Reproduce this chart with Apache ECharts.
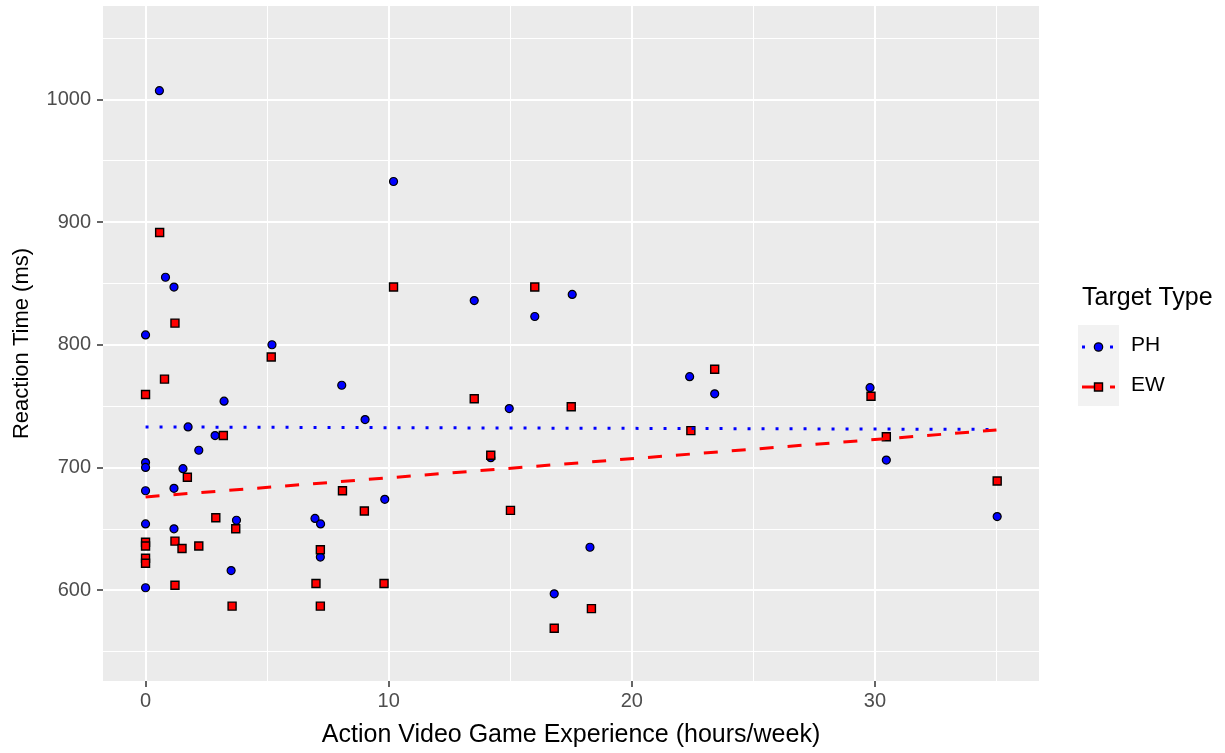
<!DOCTYPE html>
<html>
<head>
<meta charset="utf-8">
<script src="https://cdn.jsdelivr.net/npm/echarts@6/dist/echarts.min.js"></script>
<style>
html,body{margin:0;padding:0;background:#fff;}
#chart{width:1225px;height:753px;}
</style>
</head>
<body>
<div id="chart"></div>
<script>
// ---- data ----
const phPoints = [
  [0.57,1007],[0.82,855],[1.17,847],[0,808],[5.2,800],[3.23,754],[1.75,733],[2.86,726],
  [2.19,714],[0,704],[0,700],[1.54,699],[0,681],[1.17,683],[3.74,657],[0,654],[1.17,650],
  [3.52,616],[0,602],[10.2,933],[13.52,836],[8.07,767],[14.96,748],[9.03,739],[14.2,708],
  [9.84,674],[6.97,658.5],[7.2,654],[7.19,627],[17.55,841],[16.01,823],[22.38,774],
  [23.41,760],[18.28,635],[16.81,597],[29.8,765],[30.47,706],[35.03,660]
];
const ewPoints = [
  [0.58,891.5],[1.21,817.6],[5.17,790],[0.78,772],[0,759.5],[3.2,726],[1.72,692],[2.89,659],
  [3.71,650],[1.21,640],[1.5,634],[2.19,636],[0,639],[0,636],[0,626],[0,622],[1.21,604],
  [3.56,587],[10.2,847],[13.52,756],[14.2,710],[8.1,681],[9.0,664.5],[15.01,665],[7.19,633],
  [7.01,605.5],[9.81,605.5],[7.19,587],[16.01,847],[23.41,780],[17.51,749.5],[22.43,730],
  [18.34,585],[16.81,569],[29.84,758],[30.47,725],[35.03,689]
];
const phFit = [[0,733],[35,731]];
const ewFit = [[0,676],[35,730.5]];
const xTicks = [0,10,20,30];
const xMinor = [5,15,25,35];
const yTicks = [600,700,800,900,1000];
const yMinor = [550,650,750,850,950,1050];
const xRange = [-1.75,36.75];
const yRange = [526,1076];

const FONT = "'Liberation Sans', Arial, sans-serif";
const chart = echarts.init(document.getElementById('chart'), null, {renderer:'canvas'});

const gridMarks = [];
xMinor.forEach(v => gridMarks.push({xAxis:v, lineStyle:{color:'#fff', width:1, type:'solid'}}));
yMinor.forEach(v => gridMarks.push({yAxis:v, lineStyle:{color:'#fff', width:1, type:'solid'}}));
xTicks.forEach(v => gridMarks.push({xAxis:v, lineStyle:{color:'#fff', width:2, type:'solid'}}));
yTicks.forEach(v => gridMarks.push({yAxis:v, lineStyle:{color:'#fff', width:2, type:'solid'}}));

const option = {
  animation:false,
  backgroundColor:'#ffffff',
  textStyle:{fontFamily:FONT},
  grid:{left:103, top:6, right:186, bottom:69, show:true, backgroundColor:'#EBEBEB', borderWidth:0, containLabel:false},
  xAxis:{
    type:'value', min:xRange[0], max:xRange[1],
    name:'Action Video Game Experience (hours/week)', nameLocation:'middle', nameGap:42,
    nameTextStyle:{color:'#000', fontSize:25, fontFamily:FONT},
    axisLine:{show:false, onZero:false},
    axisTick:{show:true, customValues:xTicks, length:6, lineStyle:{color:'#333', width:1.5}},
    axisLabel:{customValues:xTicks, color:'#4D4D4D', fontSize:20, margin:10, fontFamily:FONT},
    splitLine:{show:false}
  },
  yAxis:{
    type:'value', min:yRange[0], max:yRange[1],
    name:'Reaction Time (ms)', nameLocation:'middle', nameGap:70, nameRotate:90,
    nameTextStyle:{color:'#000', fontSize:22, fontFamily:FONT},
    axisLine:{show:false, onZero:false},
    axisTick:{show:true, customValues:yTicks, length:6, lineStyle:{color:'#333', width:1.5}},
    axisLabel:{customValues:yTicks, color:'#4D4D4D', fontSize:20, margin:12, fontFamily:FONT,
               formatter: v => String(v)},
    splitLine:{show:false}
  },
  series:[
    {type:'scatter', data:[], z:0, silent:true,
     markLine:{silent:true, z:0, symbol:['none','none'], label:{show:false}, animation:false, data:gridMarks}},
    {name:'PH', type:'scatter', data:phPoints, symbol:'circle', symbolSize:8, z:3,
     itemStyle:{color:'#0000FF', borderColor:'#000', borderWidth:1.2, opacity:1}},
    {name:'EW', type:'scatter', data:ewPoints, symbol:'rect', symbolSize:8, z:4,
     itemStyle:{color:'#FF0000', borderColor:'#000', borderWidth:1.4, opacity:1}},
    {name:'PH fit', type:'line', data:phFit, showSymbol:false, symbol:'none', z:5,
     lineStyle:{color:'#0000FF', width:3, type:[3,11], cap:'butt'}},
    {name:'EW fit', type:'line', data:ewFit, showSymbol:false, symbol:'none', z:5,
     lineStyle:{color:'#FF0000', width:3, type:[14,14], cap:'butt'}}
  ],
  graphic:[
    {type:'text', left:1082, top:286, style:{text:'Target Type', font:"25px "+FONT, fill:'#000'}},
    {type:'rect', shape:{x:1078, y:325, width:41, height:81}, style:{fill:'#F2F2F2'}},
    // PH key
    {type:'line', shape:{x1:1082, y1:347, x2:1115, y2:347}, style:{stroke:'#0000FF', lineWidth:3, lineDash:[3,11]}},
    {type:'circle', shape:{cx:1098.5, cy:347, r:4.2}, style:{fill:'#0000FF', stroke:'#000', lineWidth:1.2}},
    {type:'text', left:1131, top:335, style:{text:'PH', font:"21px "+FONT, fill:'#000'}},
    // EW key
    {type:'line', shape:{x1:1082, y1:387, x2:1096, y2:387}, style:{stroke:'#FF0000', lineWidth:3}},
    {type:'line', shape:{x1:1110, y1:387, x2:1115, y2:387}, style:{stroke:'#FF0000', lineWidth:3}},
    {type:'rect', shape:{x:1094.5, y:383, width:8, height:8}, style:{fill:'#FF0000', stroke:'#000', lineWidth:1.4}},
    {type:'text', left:1131, top:375, style:{text:'EW', font:"21px "+FONT, fill:'#000'}}
  ]
};
chart.setOption(option);
</script>
</body>
</html>
